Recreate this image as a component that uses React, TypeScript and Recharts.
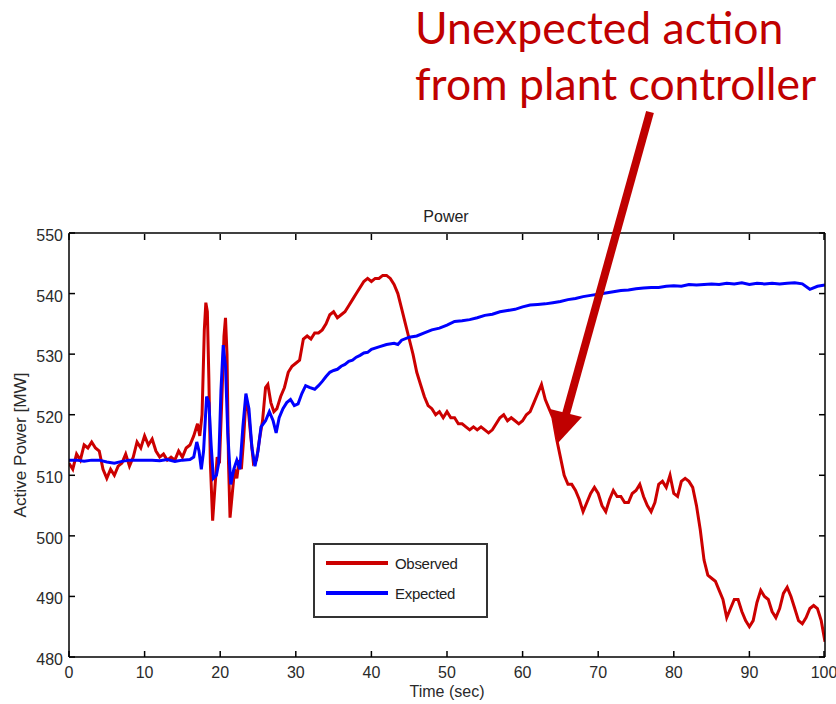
import React from "react";
import { LineChart, Line, XAxis, YAxis, Legend } from "recharts";

const observedTime = [
  0, 0.5, 1, 1.5, 2, 2.5, 3, 3.5, 4, 4.5, 5, 5.5, 6, 6.5, 7, 7.5, 8, 8.5, 9, 9.5,
  10, 10.5, 11, 11.5, 12, 12.5, 13, 13.5, 14, 14.5, 15, 15.5, 16, 16.5, 17, 17.3,
  17.6, 17.9, 18.1, 18.3, 18.5, 18.7, 19.0, 19.3, 19.6, 19.9, 20.2, 20.5, 20.7,
  20.9, 21.1, 21.3, 21.6, 21.9, 22.2, 22.5, 22.8, 23.1, 23.4, 23.7, 24.0, 24.4,
  24.8, 25.2, 25.6, 26.0, 26.3, 26.7, 27.1, 27.5, 28, 28.5, 29, 29.5, 30, 30.5,
  31, 31.5, 32, 32.5, 33, 33.5, 34, 34.5, 35, 35.5, 36, 36.5, 37, 37.5, 38, 38.5,
  39, 39.5, 40, 40.5, 41, 41.5, 42, 42.5, 43, 43.5, 44, 44.5, 45, 45.5, 46, 46.5,
  47, 47.5, 48, 48.5, 49, 49.5, 50, 50.5, 51, 51.5, 52, 52.5, 53, 53.5, 54, 54.5,
  55, 55.5, 56, 56.5, 57, 57.5, 58, 58.5, 59, 59.5, 60, 60.5, 61, 61.5, 62, 62.5,
  63, 63.5, 64, 64.5, 65, 65.5, 66, 66.5, 67, 67.5, 68, 68.5, 69, 69.5, 70, 70.5,
  71, 71.5, 72, 72.5, 73, 73.5, 74, 74.5, 75, 75.5, 76, 76.5, 77, 77.5, 78, 78.5,
  79, 79.5, 80, 80.5, 81, 81.5, 82, 82.5, 83, 83.5, 84, 84.5, 85, 85.5, 86, 86.5,
  87, 87.5, 88, 88.5, 89, 89.5, 90, 90.5, 91, 91.5, 92, 92.5, 93, 93.5, 94, 94.5,
  95, 95.5, 96, 96.5, 97, 97.5, 98, 98.5, 99, 99.5, 100,
];

const observedPower = [
  512, 511, 513.5, 512.5, 515, 514.5, 515.5, 514.5, 514, 511, 509.5, 511, 510,
  511.5, 512, 513.5, 511.5, 513, 515.5, 514.5, 516.5, 515, 516, 514, 513, 513.5,
  512.5, 513, 512.5, 514, 513, 514.5, 515, 516.5, 518.5, 516.5, 520, 534, 538.5,
  537, 526, 512, 502.5, 508, 513, 512, 522, 533, 536, 530, 512, 503, 507, 511,
  509.5, 512.5, 511, 516, 522.5, 521, 517, 512, 512.5, 516, 519, 524.5, 525, 522,
  520.5, 521, 523, 524.5, 527, 528, 528.5, 529, 532.5, 533, 532.5, 533.5, 533.5,
  534, 535, 536.5, 537, 536, 536.5, 537, 538, 539, 540, 541, 542, 542.5, 542,
  542.5, 542.5, 543, 543, 542.5, 541.5, 540, 537.5, 535, 532.5, 530, 527, 525,
  523, 521.5, 521, 520, 520.5, 519.5, 520.5, 519.5, 519.5, 518.5, 518.5, 518,
  517.5, 518, 517.5, 518, 517.5, 517, 517.5, 518.5, 519.5, 520, 519, 519.5, 519,
  518.5, 519, 520, 520.5, 522, 523.5, 525, 522.5, 521, 519.5, 516, 513, 510,
  508.5, 508.5, 507.5, 506, 504, 505.5, 507, 508, 507, 505, 504, 506, 507.5,
  506.5, 506.5, 505.5, 505.5, 507, 507.5, 508.5, 506.5, 505, 504, 505.5, 508.5,
  509, 508, 510, 507, 506.5, 509, 509.5, 509, 508, 505, 501, 496, 493.5, 493,
  492.5, 491, 489.5, 486.5, 488, 489.5, 489.5, 487.5, 486, 485, 486, 489, 491,
  490, 489.5, 487.5, 486.5, 488, 490.5, 491.5, 490, 488, 486, 485.5, 486.5, 488,
  488.5, 488, 486, 482.5,
];

const expectedTime = [
  0, 1, 2, 3, 4, 5, 6, 7, 8, 9, 10, 11, 12, 13, 14, 15, 16, 16.5, 16.9, 17.2,
  17.5, 17.8, 18.2, 18.5, 18.8, 19.1, 19.5, 19.8, 20.1, 20.4, 20.7, 21.0, 21.4,
  21.8, 22.2, 22.6, 23.0, 23.4, 23.8, 24.2, 24.6, 25.0, 25.4, 26.0, 26.5, 27.0,
  27.4, 27.8, 28.3, 28.8, 29.3, 29.8, 30.3, 30.8, 31.3, 31.8, 32.5, 33, 33.5, 34,
  34.5, 35, 35.5, 36, 36.5, 37, 37.5, 38, 38.5, 39, 39.5, 40, 41, 42, 43, 43.5,
  44, 45, 46, 47, 48, 49, 50, 51, 52, 53, 54, 55, 56, 57, 58, 59, 60, 61, 62, 63,
  64, 65, 66, 67, 68, 69, 70, 71, 72, 73, 74, 75, 76, 77, 78, 79, 80, 81, 82, 83,
  84, 85, 86, 87, 88, 89, 90, 91, 92, 93, 94, 95, 96, 97, 98, 99, 100,
];

const expectedPower = [
  512.5, 512.5, 512.3, 512.5, 512.5, 512.2, 512, 512.3, 512.5, 512.5, 512.5,
  512.5, 512.4, 512.6, 512.3, 512.5, 512.6, 513, 515.5, 514, 511, 514, 523, 522,
  515, 509.5, 510, 512, 524, 531.5, 528, 517, 508.5, 511, 512.5, 511, 518, 523.5,
  521, 514.5, 511.5, 514, 518, 519, 520.5, 519, 517, 519.5, 521, 522, 522.5,
  521.5, 521.8, 523.5, 524.8, 524.5, 524.2, 524.8, 525.5, 526.3, 527, 527.3,
  527.5, 528, 528.3, 528.8, 529, 529.5, 529.8, 530.2, 530.3, 530.8, 531.2, 531.6,
  531.8, 531.6, 532.3, 532.8, 533, 533.5, 534, 534.3, 534.8, 535.4, 535.5, 535.7,
  536, 536.4, 536.6, 537, 537.2, 537.4, 537.8, 538.1, 538.2, 538.3, 538.5, 538.7,
  539, 539.2, 539.5, 539.7, 539.9, 540.1, 540.3, 540.5, 540.6, 540.8, 540.9, 541,
  541, 541.2, 541.3, 541.2, 541.5, 541.4, 541.5, 541.6, 541.5, 541.7, 541.6,
  541.8, 541.5, 541.7, 541.6, 541.7, 541.6, 541.7, 541.8, 541.6, 540.7, 541.2,
  541.4,
];

const xTicks = [0, 10, 20, 30, 40, 50, 60, 70, 80, 90, 100];
const yTicks = [480, 490, 500, 510, 520, 530, 540, 550];
const legendOrder = ["Observed", "Expected"];

const observedData = observedTime.map((t, i) => ({ t, v: observedPower[i] }));
const expectedData = expectedTime.map((t, i) => ({ t, v: expectedPower[i] }));

const FONT = "'Liberation Sans', Arial, sans-serif";
const TICK_COLOR = "#2a2a2a";

const BottomTick = (props: any) => {
  const { x, y, payload } = props;
  return (
    <g>
      <line x1={x} y1={y} x2={x} y2={y - 6} stroke="#000" strokeWidth={1.5} />
      <text x={x} y={y + 21} textAnchor="middle" fontSize={16} fontFamily={FONT} fill={TICK_COLOR}>
        {payload.value}
      </text>
    </g>
  );
};

const TopTick = (props: any) => {
  const { x, y } = props;
  return <line x1={x} y1={y + 1} x2={x} y2={y + 7} stroke="#000" strokeWidth={1.5} />;
};

const LeftTick = (props: any) => {
  const { x, y, payload } = props;
  return (
    <g>
      <line x1={x} y1={y} x2={x + 6} y2={y} stroke="#000" strokeWidth={1.5} />
      <text x={x - 6} y={y + 8} textAnchor="end" fontSize={16} fontFamily={FONT} fill={TICK_COLOR}>
        {payload.value}
      </text>
    </g>
  );
};

const RightTick = (props: any) => {
  const { x, y } = props;
  return <line x1={x} y1={y} x2={x - 6} y2={y} stroke="#000" strokeWidth={1.5} />;
};

const LegendBox = (props: any) => {
  const payload = (props.payload || [])
    .filter((e: any) => legendOrder.includes(e.value))
    .sort((a: any, b: any) => legendOrder.indexOf(a.value) - legendOrder.indexOf(b.value));
  return (
    <div
      style={{
        width: 175,
        height: 75,
        boxSizing: "border-box",
        border: "2px solid #333",
        background: "#fff",
        paddingTop: 3,
      }}
    >
      {payload.map((entry: any, i: number) => (
        <div key={i} style={{ display: "flex", alignItems: "center", height: 30 }}>
          <div style={{ width: 62, height: 4, background: entry.color, marginLeft: 11 }} />
          <span style={{ marginLeft: 7, fontFamily: FONT, fontSize: 15, color: "#222", letterSpacing: -0.3 }}>
            {entry.value}
          </span>
        </div>
      ))}
    </div>
  );
};

export default function App() {
  return (
    <div style={{ position: "absolute", left: 0, top: 0, width: 836, height: 704, background: "#fff" }}>
      <LineChart width={836} height={704} margin={{ top: 232, right: 10, bottom: 17, left: 29 }}>
        <XAxis
          xAxisId="bottom"
          dataKey="t"
          type="number"
          domain={[0, 100]}
          ticks={xTicks}
          allowDataOverflow
          height={30}
          tickSize={0}
          tickMargin={0}
          tick={<BottomTick />}
          axisLine={{ stroke: "#000", strokeWidth: 1.5 }}
          label={{
            content: (p: any) => {
              const vb = p.viewBox;
              return (
                <text x={vb.x + vb.width / 2} y={vb.y + 40} textAnchor="middle" fontSize={16} fontFamily={FONT} fill={TICK_COLOR}>
                  Time (sec)
                </text>
              );
            },
          }}
        />
        <XAxis
          xAxisId="top"
          dataKey="t"
          orientation="top"
          type="number"
          domain={[0, 100]}
          ticks={xTicks}
          allowDataOverflow
          height={1}
          tickSize={0}
          tickMargin={0}
          tick={<TopTick />}
          axisLine={{ stroke: "#000", strokeWidth: 1.5 }}
        />
        <YAxis
          yAxisId="left"
          type="number"
          domain={[480, 550]}
          ticks={yTicks}
          allowDataOverflow
          width={40}
          tickSize={0}
          tickMargin={0}
          tick={<LeftTick />}
          axisLine={{ stroke: "#000", strokeWidth: 1.5 }}
          label={{
            content: (p: any) => {
              const vb = p.viewBox;
              const cx = 22;
              const cy = vb.y + vb.height / 2;
              return (
                <text
                  x={cx}
                  y={cy}
                  transform={`rotate(-90 ${cx} ${cy})`}
                  textAnchor="middle"
                  dominantBaseline="middle"
                  fontSize={16}
                  textLength={145}
                  lengthAdjust="spacingAndGlyphs"
                  fontFamily={FONT}
                  fill={TICK_COLOR}
                >
                  Active Power [MW]
                </text>
              );
            },
          }}
        />
        <YAxis
          yAxisId="right"
          orientation="right"
          type="number"
          domain={[480, 550]}
          ticks={yTicks}
          allowDataOverflow
          width={1}
          tickSize={0}
          tickMargin={0}
          tick={<RightTick />}
          axisLine={{ stroke: "#000", strokeWidth: 1.5 }}
        />
        <Line
          data={observedData}
          dataKey="v"
          name="Observed"
          xAxisId="bottom"
          yAxisId="left"
          type="linear"
          stroke="#cc0000"
          strokeWidth={3}
          dot={false}
          isAnimationActive={false}
        />
        <Line
          data={expectedData}
          dataKey="v"
          name="Expected"
          xAxisId="bottom"
          yAxisId="left"
          type="linear"
          stroke="#0000ff"
          strokeWidth={3}
          dot={false}
          isAnimationActive={false}
        />
        <Line
          data={expectedData}
          dataKey="v"
          name="frame"
          xAxisId="top"
          yAxisId="right"
          stroke="none"
          legendType="none"
          dot={false}
          activeDot={false}
          isAnimationActive={false}
        />
        <Legend
          layout="horizontal"
          verticalAlign="middle"
          align="center"
          content={<LegendBox />}
          wrapperStyle={{ left: 313, top: 543, width: 175, height: 75 }}
        />
      </LineChart>
      <svg
        width={836}
        height={704}
        style={{ position: "absolute", left: 0, top: 0, pointerEvents: "none" }}
      >
        <text x={446} y={222} textAnchor="middle" fontSize={16} fontFamily={FONT} fill="#222">
          Power
        </text>
        <text x={415} y={44} fontSize={44.5} fontFamily="Lato, 'Open Sans', sans-serif" fill="#c00000">
          Unexpected action
        </text>
        <text x={415} y={100} fontSize={44.5} fontFamily="Lato, 'Open Sans', sans-serif" fill="#c00000">
          from plant controller
        </text>
        <line x1={650} y1={112} x2={566} y2={414} stroke="#c00000" strokeWidth={8} />
        <polygon points="558,443 582,417 550,409" fill="#c00000" />
      </svg>
    </div>
  );
}
